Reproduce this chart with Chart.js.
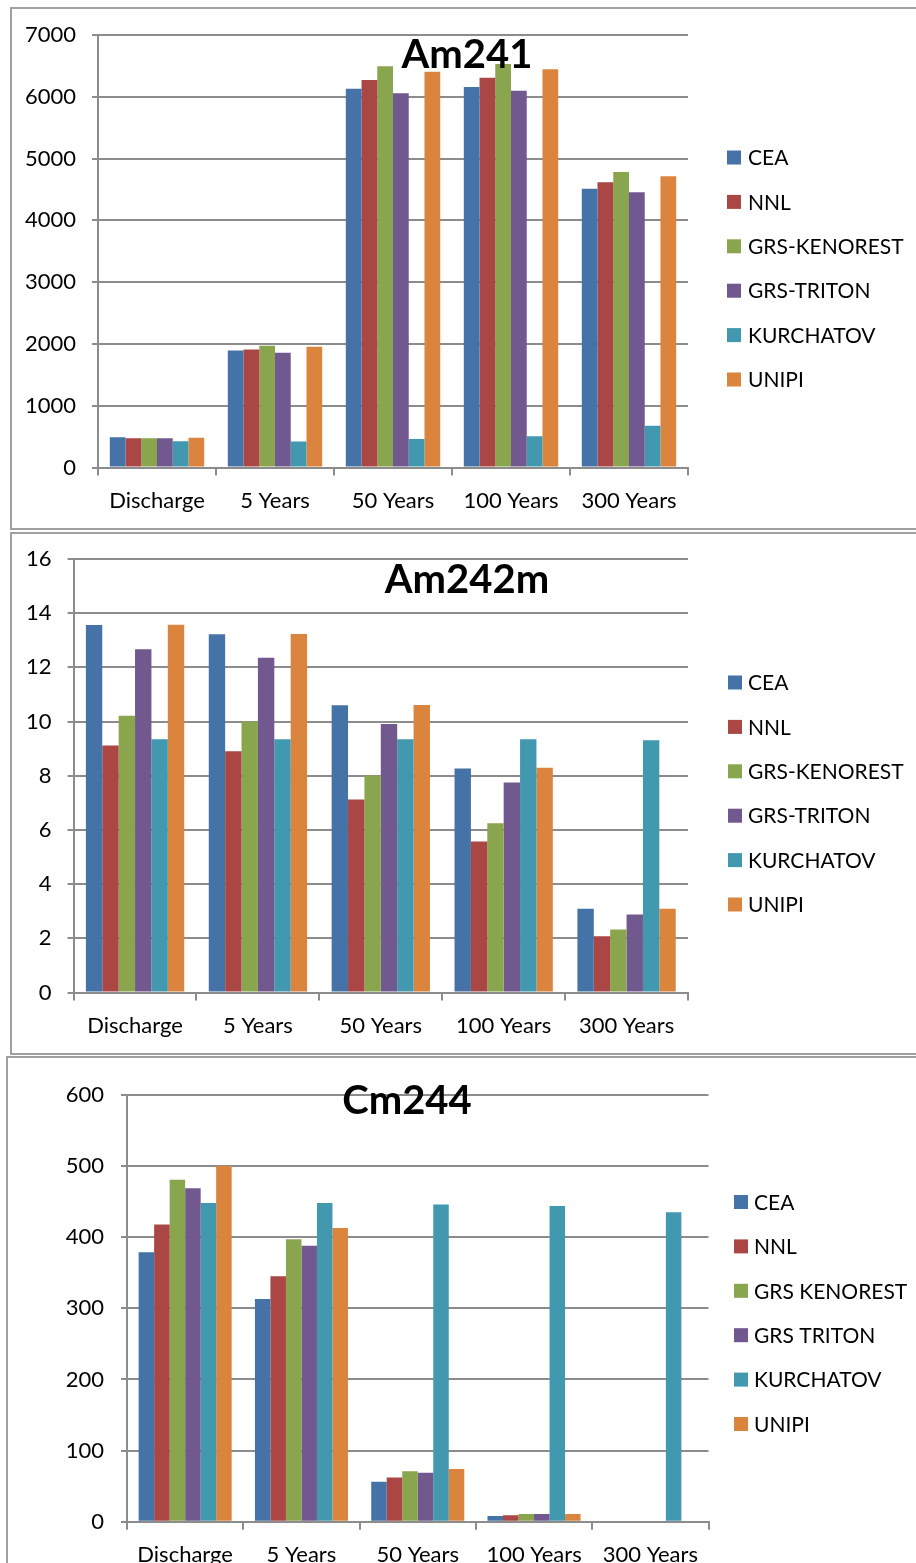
<!DOCTYPE html>
<html>
<head>
<meta charset="utf-8">
<script src="https://cdn.jsdelivr.net/npm/chart.js@4.4.1/dist/chart.umd.min.js"></script>
<style>
  html, body { margin: 0; padding: 0; background: #fff; overflow: hidden; }
  body { width: 916px; height: 1563px; position: relative; }
  .box { position: absolute; border: 2px solid #a0a0a0; box-sizing: border-box; }
  canvas { position: absolute; left: 0; }
</style>
</head>
<body>
<div class="box" style="left:10px;top:7px;width:1000px;height:523px"></div>
<div class="box" style="left:10px;top:532px;width:1000px;height:523px"></div>
<div class="box" style="left:6px;top:1056px;width:1000px;height:600px"></div>
<canvas id="chartAm241" style="top:9px" width="916" height="520"></canvas>
<canvas id="chartAm242m" style="top:534px" width="916" height="519"></canvas>
<canvas id="chartCm244" style="top:1058px" width="916" height="505"></canvas>
<script>
'use strict';

// カテゴリ（冷却期間）
const categories = ['Discharge', '5 Years', '50 Years', '100 Years', '300 Years'];
const seriesNames = ['CEA', 'NNL', 'GRS-KENOREST', 'GRS-TRITON', 'KURCHATOV', 'UNIPI'];
const seriesNamesCm = ['CEA', 'NNL', 'GRS KENOREST', 'GRS TRITON', 'KURCHATOV', 'UNIPI'];
const colors = ['#4572A7', '#AA4643', '#89A54E', '#71588F', '#4198AF', '#DB843D'];

// Am241
const am241Cea = [490, 1893, 6131, 6159, 4511];
const am241Nnl = [475, 1910, 6271, 6310, 4617];
const am241Kenorest = [475, 1971, 6493, 6532, 4784];
const am241Triton = [475, 1860, 6059, 6098, 4456];
const am241Kurchatov = [425, 422, 462, 506, 679];
const am241Unipi = [485, 1954, 6404, 6444, 4716];

// Am242m
const am242mCea = [13.56, 13.22, 10.60, 8.27, 3.09];
const am242mNnl = [9.12, 8.91, 7.13, 5.58, 2.08];
const am242mKenorest = [10.22, 10.00, 8.01, 6.25, 2.33];
const am242mTriton = [12.67, 12.36, 9.91, 7.75, 2.88];
const am242mKurchatov = [9.35, 9.35, 9.35, 9.35, 9.31];
const am242mUnipi = [13.57, 13.23, 10.61, 8.30, 3.09];

// Cm244
const cm244Cea = [379, 313, 56, 8, 0];
const cm244Nnl = [418, 345, 62, 9, 0];
const cm244Kenorest = [481, 397, 71, 11, 0];
const cm244Triton = [469, 388, 69, 11, 0];
const cm244Kurchatov = [448, 448, 446, 444, 435];
const cm244Unipi = [500, 413, 74, 11, 0];

const FONT = 'Lato';
const GRID = '#8c8c8c';

// タイトルと凡例を描くプラグイン
const decor = {
  id: 'decor',
  afterDatasetsDraw(chart, args, opts) {
    const ctx = chart.ctx;
    ctx.save();
    ctx.fillStyle = '#000';
    ctx.font = 'bold 40px ' + FONT;
    ctx.textAlign = 'center';
    ctx.textBaseline = 'middle';
    ctx.fillText(opts.title, opts.titleX, opts.titleY);
    ctx.restore();
  },
  afterDraw(chart, args, opts) {
    const ctx = chart.ctx;
    ctx.save();
    ctx.font = '21px ' + FONT;
    ctx.textAlign = 'left';
    ctx.textBaseline = 'middle';
    chart.data.datasets.forEach((ds, i) => {
      const y = opts.legendY + i * 44.4;
      ctx.fillStyle = ds.backgroundColor;
      ctx.fillRect(opts.boxX, y - 7, 14, 14);
      ctx.fillStyle = '#000';
      ctx.fillText(ds.label, opts.textX, y + 1);
    });
    ctx.restore();
  }
};

function makeChart(id, names, series, yMax, yStep, g) {
  const ctx = document.getElementById(id).getContext('2d');
  const datasets = series.map((vals, i) => ({
    label: names[i],
    data: vals,
    backgroundColor: colors[i],
    borderWidth: 0,
    categoryPercentage: 0.8,
    barPercentage: 1.0
  }));
  return new Chart(ctx, {
    type: 'bar',
    data: { labels: categories, datasets: datasets },
    options: {
      responsive: false,
      animation: false,
      layout: { padding: { left: 0, top: g.top, right: g.right, bottom: 0 } },
      scales: {
        x: {
          grid: { drawOnChartArea: false, tickLength: 8, color: GRID, lineWidth: 2 },
          border: { color: GRID, width: 2 },
          ticks: { color: '#000', font: { family: FONT, size: 22 }, padding: g.xPad, maxRotation: 0 },
          afterFit(s) { s.height = g.xHeight; }
        },
        y: {
          min: 0,
          max: yMax,
          ticks: {
            stepSize: yStep, color: '#000', font: { family: FONT, size: 22 }, padding: g.yPad,
            callback: v => String(v) // カンマ区切りなし
          },
          grid: { color: GRID, lineWidth: 2, tickLength: 6 },
          border: { color: GRID, width: 2 },
          afterFit(s) {
            s.width = g.yWidth;
            s.paddingTop = 0; // 上端はlayout.paddingで決める
            s.paddingBottom = 0;
          }
        }
      },
      plugins: {
        legend: { display: false },
        tooltip: { enabled: false },
        decor: g.decor
      }
    },
    plugins: [decor]
  });
}

makeChart('chartAm241', seriesNames,
  [am241Cea, am241Nnl, am241Kenorest, am241Triton, am241Kurchatov, am241Unipi],
  7000, 1000,
  { top: 26, right: 228, xHeight: 61.4, yWidth: 98, xPad: 12, yPad: 16,
    decor: { title: 'Am241', titleX: 467, titleY: 46, boxX: 727, textX: 748, legendY: 148.5 } });

makeChart('chartAm242m', seriesNames,
  [am242mCea, am242mNnl, am242mKenorest, am242mTriton, am242mKurchatov, am242mUnipi],
  16, 2,
  { top: 25, right: 228, xHeight: 60.4, yWidth: 73.6, xPad: 12, yPad: 16,
    decor: { title: 'Am242m', titleX: 467, titleY: 46, boxX: 728, textX: 748, legendY: 148.5 } });

makeChart('chartCm244', seriesNamesCm,
  [cm244Cea, cm244Nnl, cm244Kenorest, cm244Triton, cm244Kurchatov, cm244Unipi],
  600, 100,
  { top: 37, right: 207.5, xHeight: 41.3, yWidth: 127, xPad: 12, yPad: 17,
    decor: { title: 'Cm244', titleX: 407, titleY: 43, boxX: 734, textX: 754, legendY: 144 } });
</script>
</body>
</html>
